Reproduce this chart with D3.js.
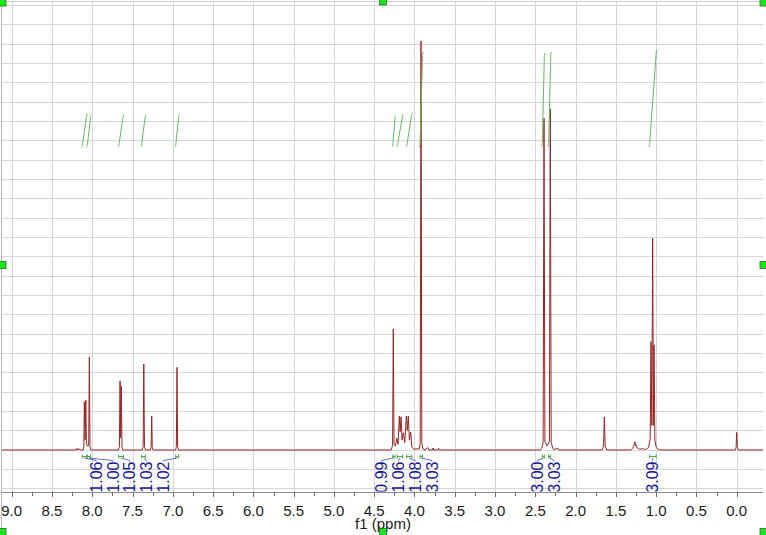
<!DOCTYPE html>
<html><head><meta charset="utf-8">
<script src="https://cdn.jsdelivr.net/npm/d3@7"></script>
<style>body{margin:0;background:#fff}svg{display:block}</style>
</head><body>
<svg id="c" width="766" height="535"></svg>
<script>
// ---------- data ----------
const tickValues = [9.0,8.5,8.0,7.5,7.0,6.5,6.0,5.5,5.0,4.5,4.0,3.5,3.0,2.5,2.0,1.5,1.0,0.5,0.0];
const tickLabels = ["9.0","8.5","8.0","7.5","7.0","6.5","6.0","5.5","5.0","4.5","4.0","3.5","3.0","2.5","2.0","1.5","1.0","0.5","0.0"];
const minorTicks = [8.75,8.25,7.75,7.25,6.75,6.25,5.75,5.25,4.75,4.25,3.75,3.25,2.75,2.25,1.75,1.25,0.75,0.25];

// spectrum trace vertices [ppm, relative intensity], descending ppm
const spectrum = [
 [9.15,0],[8.20,0],[8.19,0.4],[8.18,0],[8.16,0.3],[8.15,0],
 [8.112,0],[8.105,0.8],[8.098,11.8],[8.089,2.5],[8.080,12.2],[8.072,1.4],[8.055,0.9],[8.044,1.5],[8.036,22.7],[8.028,0.8],[8.015,0],
 [7.675,0],[7.663,0.9],[7.655,16.9],[7.647,3.0],[7.639,15.6],[7.631,0.8],[7.62,0],
 [7.38,0],[7.368,0.9],[7.360,21.0],[7.352,0.9],[7.34,0],
 [7.28,0],[7.269,0.6],[7.262,8.3],[7.255,0.6],[7.245,0],
 [6.965,0],[6.956,0.9],[6.948,20.2],[6.940,0.9],[6.93,0],
 [4.29,0],[4.272,1.1],[4.263,29.6],[4.254,1.3],[4.236,1.0],[4.220,2.9],[4.204,1.4],[4.188,8.3],[4.178,4.5],[4.167,8.1],
 [4.154,2.4],[4.139,4.2],[4.120,1.8],[4.101,8.3],[4.089,4.8],[4.077,8.3],[4.063,2.4],[4.047,4.4],[4.032,0.7],[4.01,0.2],
 [3.94,0.3],[3.929,1.6],[3.919,100],[3.909,1.6],[3.895,0.3],[3.87,0],[3.835,0.6],[3.82,0],[3.78,0],[3.77,0.5],[3.76,0],[3.71,0],[3.70,0.4],[3.69,0],
 [2.44,0],[2.42,0.4],[2.403,1.8],[2.392,81.1],[2.381,2.0],[2.352,1.0],[2.325,2.1],[2.314,83.4],[2.303,2.0],[2.285,0.5],[2.265,0],[2.23,0.5],[2.21,0],
 [1.67,0],[1.653,1.0],[1.643,8.1],[1.633,1.0],[1.615,0],
 [1.31,0],[1.29,0.4],[1.28,0.9],[1.27,1.5],[1.262,2.0],[1.254,1.0],[1.245,1.2],[1.235,0.5],[1.21,0.2],[1.16,0.3],[1.13,0.1],
 [1.095,0.6],[1.074,2.6],[1.064,26.5],[1.054,6.0],[1.043,51.8],[1.034,6.0],[1.026,25.7],[1.016,2.4],[0.998,0.6],[0.97,0.1],[0.94,0],
 [0.02,0],[0.008,0.6],[0.000,4.3],[-0.008,0.6],[-0.02,0],[-0.35,0]
];

// integrals
const integralStart  = [8.123,8.062,7.671,7.390,6.964,4.270,4.213,4.096,3.930,2.413,2.334,1.080];
const integralEnd    = [8.069,8.020,7.614,7.341,6.927,4.240,4.146,4.034,3.900,2.388,2.309,1.000];
const integralValues = [1.06,1.00,1.05,1.03,1.02,0.99,1.06,1.08,3.03,3.00,3.03,3.09];
const integralGroup  = [0,0,0,0,0,1,1,1,1,2,2,3];

// ---------- layout ----------
const W = 766, H = 535;
const plotL = 2, plotR = 763, plotT = 1, plotB = 490, axisY = 492.5;
const svg = d3.select("#c");
const x = d3.scaleLinear().domain([9,0]).range([11.7,736.7]);
const y = d3.scaleLinear().domain([0,100]).range([450,41]);
const yi = d3.scaleLinear().domain([0,1]).range([147,115.6]);
const font = "'Liberation Sans', Arial, sans-serif";

svg.append("rect").attr("width",W).attr("height",H).attr("fill","#fff");

const defs = svg.append("defs");
defs.append("clipPath").attr("id","plotclip").append("rect")
  .attr("x",plotL).attr("y",plotT).attr("width",plotR-plotL).attr("height",plotB-plotT);

// grid
const grid = svg.append("g").attr("stroke","#d6d6d6").attr("stroke-width",1);
grid.selectAll("line.v").data(tickValues).join("line")
  .attr("x1",d=>Math.round(x(d))+0.5).attr("x2",d=>Math.round(x(d))+0.5)
  .attr("y1",plotT).attr("y2",axisY);
grid.selectAll("line.h").data(d3.range(0,26)).join("line")
  .attr("x1",plotL).attr("x2",plotR)
  .attr("y1",k=>Math.round(5+19.33*k)+0.5).attr("y2",k=>Math.round(5+19.33*k)+0.5);
// frame
svg.append("line").attr("x1",plotL-0.5).attr("x2",plotL-0.5).attr("y1",0).attr("y2",H).attr("stroke","#b8b8b8");
svg.append("line").attr("x1",0).attr("x2",W).attr("y1",plotT+0.5).attr("y2",plotT+0.5).attr("stroke","#cfcfcf");

// spectrum
const line = d3.line().x(d=>x(d[0])).y(d=>y(d[1]));
svg.append("g").attr("clip-path","url(#plotclip)")
  .append("path").datum(spectrum).attr("d",line)
  .attr("fill","none").attr("stroke","#9a2424").attr("stroke-width",1).attr("stroke-linejoin","round");

// integral curves
const integrals = integralValues.map((v,i)=>({v, s:integralStart[i], e:integralEnd[i], g:integralGroup[i], i}));
const iline = d3.line().x(d=>x(d[0])).y(d=>yi(d[1])).curve(d3.curveBasis);
svg.append("g").selectAll("path").data(integrals).join("path")
  .attr("d",d=>iline([[d.s+0.012,0],[d.s,0.02*d.v],[d.s,0.05*d.v],[d.e,0.95*d.v],[d.e,0.98*d.v],[d.e-0.012,d.v]]))
  .attr("fill","none").attr("stroke","#5bb85b").attr("stroke-width",1);

// integration markers under baseline
const mk = svg.append("g").attr("stroke","#4aa84a").attr("stroke-width",1);
integrals.forEach(d=>{
  const a = x(d.s), b = x(d.e);
  mk.append("line").attr("x1",a).attr("x2",b).attr("y1",456.5).attr("y2",456.5);
  mk.append("line").attr("x1",a).attr("x2",a).attr("y1",454.5).attr("y2",458.5);
  mk.append("line").attr("x1",b).attr("x2",b).attr("y1",454.5).attr("y2",458.5);
});

// label layout: per group, centred on group extent, fixed spacing
const groups = d3.group(integrals, d=>d.g);
groups.forEach(arr=>{
  const lo = d3.min(arr,d=>x(d.s)), hi = d3.max(arr,d=>x(d.e));
  const c = (lo+hi)/2 - 0.8, n = arr.length;
  arr.forEach((d,k)=>{ d.lx = c + (k-(n-1)/2)*16.8; d.mx = (x(d.s)+x(d.e))/2; });
});

defs.append("clipPath").attr("id","labclip").append("rect")
  .attr("x",0).attr("y",0).attr("width",W).attr("height",491.5);
const lab = svg.append("g").attr("clip-path","url(#labclip)");
lab.selectAll("path").data(integrals).join("path")
  .attr("d",d=>`M${d.mx},458 L${d.lx},460.5 L${d.lx},461.5`)
  .attr("fill","none").attr("stroke","#3c4cb0").attr("stroke-width",0.8);
lab.selectAll("text").data(integrals).join("text")
  .attr("transform",d=>`translate(${d.lx},461.5) rotate(-90)`)
  .attr("dy","0.36em").attr("text-anchor","end")
  .attr("font-family",font).attr("font-size",16).attr("fill","#15159a")
  .text(d=>d.v.toFixed(2));

// axis
svg.append("line").attr("x1",plotL).attr("x2",plotR).attr("y1",axisY).attr("y2",axisY)
  .attr("stroke","#8c8c8c").attr("stroke-width",1.2);
const ax = svg.append("g").attr("stroke","#6a6a6a").attr("stroke-width",1);
ax.selectAll("line.maj").data(tickValues).join("line")
  .attr("x1",d=>Math.round(x(d))+0.5).attr("x2",d=>Math.round(x(d))+0.5)
  .attr("y1",axisY).attr("y2",axisY+4.5);
ax.selectAll("line.min").data(minorTicks).join("line").attr("class","min")
  .attr("x1",d=>Math.round(x(d))+0.5).attr("x2",d=>Math.round(x(d))+0.5)
  .attr("y1",axisY).attr("y2",axisY+3.5);
svg.append("g").selectAll("text").data(tickValues).join("text")
  .attr("x",d=>x(d)).attr("y",516).attr("text-anchor","middle")
  .attr("font-family",font).attr("font-size",15).attr("fill","#1a1a1a")
  .text((d,i)=>tickLabels[i]);
svg.append("text").attr("x",383).attr("y",529).attr("text-anchor","middle")
  .attr("font-family",font).attr("font-size",15).attr("fill","#1a1a1a").text("f1 (ppm)");

// selection handles
const handles = [[2.5,2.5],[383,1.5],[763.5,2.5],[2.5,265],[763.5,265],[2.5,532],[383,532],[763.5,532]];
svg.append("g").selectAll("rect").data(handles).join("rect")
  .attr("x",d=>d[0]-3.5).attr("y",d=>d[1]-3.5).attr("width",7).attr("height",7)
  .attr("fill","#19e619").attr("stroke","#2a6a2a").attr("stroke-width",0.8);
</script>
</body></html>
